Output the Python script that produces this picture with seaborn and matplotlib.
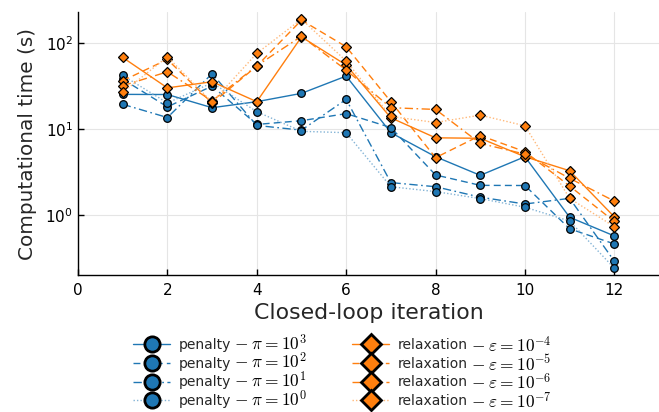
import numpy as np
import pandas as pd
import matplotlib
matplotlib.use("Agg")
import matplotlib.pyplot as plt
from matplotlib.lines import Line2D
from matplotlib.font_manager import FontProperties
from matplotlib.colors import to_rgb
import seaborn as sns

iterations = [1, 2, 3, 4, 5, 6, 7, 8, 9, 10, 11, 12]

penalty_1e3 = [25.3, 25.2, 17.7, 20.8, 26.0, 41.3, 9.06, 4.76, 2.89, 4.76, 0.94, 0.57]
penalty_1e2 = [38.0, 18.1, 31.6, 11.3, 12.5, 15.1, 10.4, 2.92, 2.21, 2.20, 0.69, 0.46]
penalty_1e1 = [19.4, 13.6, 44.0, 11.0, 9.7, 22.1, 2.38, 2.13, 1.61, 1.34, 1.56, 0.29]
penalty_1e0 = [42.0, 20.1, 34.5, 15.9, 9.4, 9.06, 2.13, 1.87, 1.55, 1.23, 0.85, 0.24]

relax_1e4 = [68.0, 30.1, 35.5, 20.8, 118.0, 55.5, 13.5, 7.9, 7.8, 4.76, 3.27, 0.95]
relax_1e5 = [36.5, 64.5, 20.0, 54.0, 185.0, 90.6, 20.8, 4.64, 8.4, 5.45, 2.17, 0.84]
relax_1e6 = [31.9, 46.3, 21.2, 54.5, 120.0, 48.5, 17.7, 16.9, 6.8, 5.1, 2.67, 1.45]
relax_1e7 = [26.7, 69.3, 20.5, 75.9, 190.0, 61.8, 14.0, 11.9, 14.5, 10.9, 1.56, 0.73]

penalty_name = "penalty"
relax_name = "relaxation"
penalty_math = [r"$-\;\pi = 10^{3}$", r"$-\;\pi = 10^{2}$",
                r"$-\;\pi = 10^{1}$", r"$-\;\pi = 10^{0}$"]
relax_math = [r"$-\;\varepsilon = 10^{-4}$", r"$-\;\varepsilon = 10^{-5}$",
              r"$-\;\varepsilon = 10^{-6}$", r"$-\;\varepsilon = 10^{-7}$"]

sns.set_style("white")
plt.rcParams["font.family"] = ["DejaVu Sans"]
plt.rcParams["mathtext.fontset"] = "cm"

blue = "#1f77b4"
orange = "#ff7f0e"
linestyles = ["-", (0, (5, 3)), (0, (6, 2.5, 1.2, 2.5)), (0, (1, 1.5))]
lightness = [0.0, 0.0, 0.0, 0.45]


def lighten(c, f):
    r, g, b = to_rgb(c)
    return (r + (1 - r) * f, g + (1 - g) * f, b + (1 - b) * f)


fig = plt.figure(figsize=(6.59, 4.12), dpi=100)
ax = fig.add_axes([0.1184, 0.3325, 0.8816, 0.638])

series = []
for vals, m, ls, lf in zip([penalty_1e3, penalty_1e2, penalty_1e1, penalty_1e0],
                           penalty_math, linestyles, lightness):
    series.append((vals, penalty_name, m, ls, lf, blue, "o", 5.5))
for vals, m, ls, lf in zip([relax_1e4, relax_1e5, relax_1e6, relax_1e7],
                           relax_math, linestyles, lightness):
    series.append((vals, relax_name, m, ls, lf, orange, "D", 4.8))

handles = []
maths = []
for vals, name, m, ls, lf, col, mk, ms in series:
    df = pd.DataFrame({"iteration": iterations, "time": vals})
    lc = lighten(col, lf)
    sns.lineplot(data=df, x="iteration", y="time", ax=ax, color=lc,
                 linestyle=ls, linewidth=1.0, legend=False)
    ax.plot(df["iteration"], df["time"], linestyle="none", marker=mk,
            markersize=ms, markerfacecolor=col, markeredgecolor="black",
            markeredgewidth=0.9)
    handles.append(Line2D([0], [0], color=lc, linestyle=ls, linewidth=1.0,
                          marker=mk, markersize=11 if mk == "o" else 10,
                          markerfacecolor=col, markeredgecolor="black",
                          markeredgewidth=2.0, label=name))
    maths.append(m)

ax.set_yscale("log")
ax.set_xlim(0, 13)
ax.set_ylim(0.2, 229)
ax.set_xticks([0, 2, 4, 6, 8, 10, 12])
ax.set_yticks([1, 10, 100])
ax.yaxis.set_minor_locator(matplotlib.ticker.NullLocator())
ax.grid(True, color="#e5e5e5", linewidth=0.8)
for s in ["top", "right"]:
    ax.spines[s].set_visible(False)
for s in ["left", "bottom"]:
    ax.spines[s].set_color("black")
    ax.spines[s].set_linewidth(1.0)
ax.tick_params(direction="in", length=4, width=1, labelsize=11, colors="black",
               left=True, bottom=True)
ax.tick_params(axis="x", pad=6)
ax.set_xlabel("Closed-loop iteration", fontsize=15.8, labelpad=3)
ax.set_ylabel("Computational time (s)", fontsize=14.4, labelpad=6)

leg = fig.legend(handles=handles, loc="upper left",
                 bbox_to_anchor=(0.1827, 0.210), ncol=2, frameon=False, fontsize=10,
                 handlelength=2.7, columnspacing=8.7, labelspacing=0.34,
                 handletextpad=0.6, borderpad=0.4)

# append the math part of each label at a larger size, on the same baseline
fig.canvas.draw()
renderer = fig.canvas.get_renderer()
fp = FontProperties(family="DejaVu Sans", size=10)
W, H = fig.bbox.width, fig.bbox.height
for t, m in zip(leg.get_texts(), maths):
    bb = t.get_window_extent(renderer)
    _, _, d = renderer.get_text_width_height_descent(t.get_text(), fp, ismath=False)
    fig.text((bb.x1 + 3) / W, (bb.y0 + d) / H, m, fontsize=12.5, va="baseline",
             ha="left", color="black")

fig.savefig("out.png", dpi=100)
